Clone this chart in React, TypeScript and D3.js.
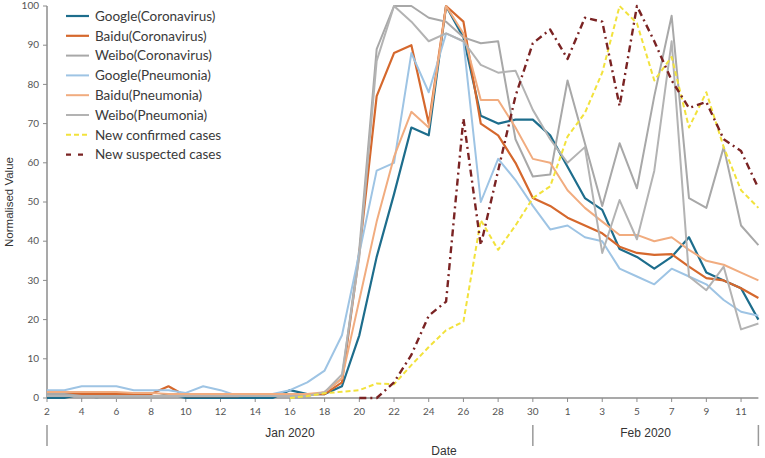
import React from "react";
import * as d3 from "d3";

// Dates: Jan 2 .. Feb 12 2020 (42 days)
const dayLabels = ["2","3","4","5","6","7","8","9","10","11","12","13","14","15","16","17","18","19","20","21","22","23","24","25","26","27","28","29","30","31","1","2","3","4","5","6","7","8","9","10","11","12"];
const yTicks = [0, 10, 20, 30, 40, 50, 60, 70, 80, 90, 100];

const googleCorona = [0,0,1,0,0,0,0,1,0,0,0,0,0,0,2,1,1,3, 16,36,52,69,67,100,92,72,70,71,71,67, 59,51,48,38,36,33,36,41,32,30,28,20];
const baiduCorona = [1,1,1,1,1,1,1,3,0.5,0.5,0.5,0.5,1,1,1,1,1,4, 37,77,88,90,70,100,96,70,67,60,51,49, 46,44,42,38.6,37,36.5,36.7,33.5,30.6,30,28,25.5];
const weiboCorona = [1,1,0.5,0,0,0,0,0,0.5,1,1,0.5,0.5,0.5,0.5,0.5,1.5,5, 38,89,100,100,97,96,92,90.5,91,66,56.5,57, 81,65,49,65,53.5,77,97.5,51,48.5,64,44,39];
const googlePneu = [2,2,3,3,3,2,2,2,1.3,3,2,0.5,1,1,2,4,7,16, 37,58,60,88,78,93,91,50,61,55.6,49,43, 44,41,40,33,31,29,33,31,29,25,22,21];
const baiduPneu = [1.5,1.5,1.5,1.5,1.5,1.3,1.3,1,1,1,1,1,1,1,1,1,1.5,5, 25,45,61.5,73,69,100,93,76,76,69,61,60, 53,48.5,45,41.6,41.6,40,41,37.8,35,34,32,30];
const weiboPneu = [0.5,0.5,0.5,0.5,0.5,0.5,0.5,0.5,0.5,0.5,0.5,0.5,0.5,0.5,0.5,0.5,1.5,6, 36,86,100,96,91,93,91,85,83,83.5,73.5,66, 60,64,37,50.5,40.5,58,91,31,27.5,33.5,17.5,19];
const newConfirmed = [null,null,null,null,null,null,null,null,null,null,null,null,null,null, 0,0.5,1.2,1.6,2,3.7,3.5,8.4,13,17.3,19.5,45.4,37.8,44,51,54, 66.7,72.7,83,100,95.6,81,87,69,78,64,53,48.5];
const newSuspected = [null,null,null,null,null,null,null,null,null,null,null,null,null,null,null,null,null,null, 0,0,4,11,21,24.6,71.3,39,58,77,90.5,94, 86.5,97,96,74.5,100,91,81,74,75.5,66,63,53.5];

const seriesNames = ["Google(Coronavirus)","Baidu(Coronavirus)","Weibo(Coronavirus)","Google(Pneumonia)","Baidu(Pneumonia)","Weibo(Pneumonia)","New confirmed cases","New suspected cases"];
const seriesData = [googleCorona, baiduCorona, weiboCorona, googlePneu, baiduPneu, weiboPneu, newConfirmed, newSuspected];
const seriesColors = ["#1d6d8c","#d5682d","#a8a8a8","#9ec4e4","#f1ac7f","#b3b3b3","#f2e23c","#7a2323"];
const seriesWidths = [2.2, 2.2, 2, 2, 2, 2, 2, 2.4];
const seriesDash = [null, null, null, null, null, null, "5,3", "7,4,2,4"];

const W = 765, H = 458;
const x = d3.scaleLinear().domain([0, 41]).range([47, 758.4]);
const y = d3.scaleLinear().domain([0, 100]).range([398, 6]);

export default function App() {
  const line = d3.line<number | null>()
    .defined((d) => d != null)
    .x((_, i) => x(i))
    .y((d) => y(d as number));

  const xTickIdx = d3.range(0, 41, 2);
  const tickFont = "Lato, 'Open Sans', sans-serif";
  const labelFont = "'Liberation Sans', Arial, sans-serif";

  return (
    <svg width={W} height={H} style={{ position: "absolute", left: 0, top: 0, background: "#fff" }}>
      {/* y axis */}
      <line x1={47} x2={47} y1={y(100)} y2={y(0)} stroke="#8c8c8c" strokeWidth={1.5} />
      {yTicks.map((t) => (
        <g key={t}>
          <line x1={43} x2={47} y1={y(t)} y2={y(t)} stroke="#8c8c8c" strokeWidth={1} />
          <text x={39} y={y(t)} dy="0.32em" textAnchor="end" fontSize={10} fill="#555" fontFamily={tickFont}>{t}</text>
        </g>
      ))}
      {/* x axis */}
      <line x1={47} x2={x(41)} y1={y(0)} y2={y(0)} stroke="#8c8c8c" strokeWidth={1.5} />
      {xTickIdx.map((i) => (
        <g key={i}>
          <line x1={x(i)} x2={x(i)} y1={y(0)} y2={y(0) + 4} stroke="#8c8c8c" strokeWidth={1} />
          <text x={x(i)} y={415} textAnchor="middle" fontSize={10} fill="#555" fontFamily={tickFont}>{dayLabels[i]}</text>
        </g>
      ))}
      {/* month separators */}
      {[0, 28, 41].map((i) => (
        <line key={i} x1={x(i)} x2={x(i)} y1={425} y2={446} stroke="#999" strokeWidth={1.5} />
      ))}
      <text x={(x(0) + x(28)) / 2} y={437} textAnchor="middle" fontSize={12} fill="#333" fontFamily={labelFont}>Jan 2020</text>
      <text x={(x(28) + x(41)) / 2} y={437} textAnchor="middle" fontSize={12} fill="#333" fontFamily={labelFont}>Feb 2020</text>
      <text x={444} y={455} textAnchor="middle" fontSize={12} fill="#333" fontFamily={labelFont}>Date</text>
      <text transform="translate(13,202) rotate(-90)" textAnchor="middle" fontSize={11.5} fill="#333" fontFamily={labelFont}>Normalised Value</text>

      {/* series */}
      {seriesData.map((data, k) => (
        <path key={k} d={line(data) || ""} fill="none" stroke={seriesColors[k]} strokeWidth={seriesWidths[k]}
          strokeDasharray={seriesDash[k] || undefined} strokeLinejoin="round" />
      ))}

      {/* legend */}
      {seriesNames.map((name, k) => {
        const ly = 16 + k * 19.8;
        return (
          <g key={name}>
            <line x1={66} x2={89} y1={ly} y2={ly} stroke={seriesColors[k]} strokeWidth={seriesWidths[k]}
              strokeDasharray={seriesDash[k] ? (k === 6 ? "5,3" : "5,7") : undefined} />
            <text x={95} y={ly} dy="0.35em" fontSize={13.5} fill="#3a3a3a" fontFamily={tickFont}>{name}</text>
          </g>
        );
      })}
    </svg>
  );
}
